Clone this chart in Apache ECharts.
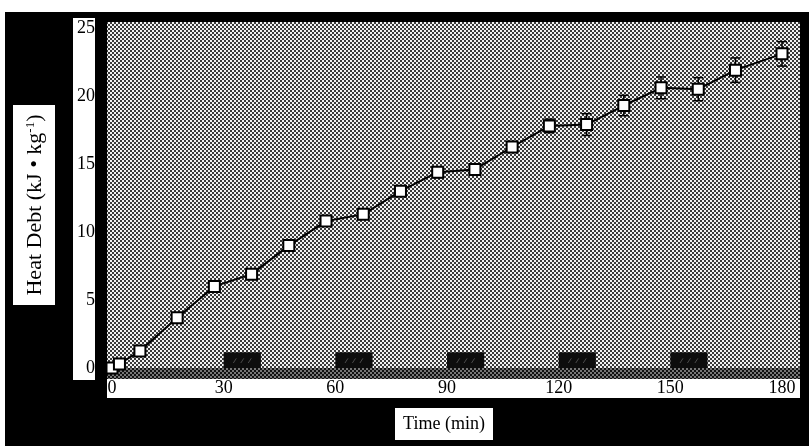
<!DOCTYPE html>
<html>
<head>
    <meta charset="utf-8">
    <title>Heat Debt</title>
    <script src="https://cdn.jsdelivr.net/npm/echarts@6/dist/echarts.min.js"></script>
    <style>
        html, body { margin: 0; padding: 0; background: #fff; }
        #chart { width: 809px; height: 446px; }
    </style>
</head>
<body>
<div id="chart"></div>
<script>
// time (min) and heat debt (kJ/kg)
var timeMin = [0, 2, 7.5, 17.5, 27.5, 37.5, 47.5, 57.5, 67.5, 77.5, 87.5, 97.5, 107.5, 117.5, 127.5, 137.5, 147.5, 157.5, 167.5, 180];
var heatDebt = [0, 0.3, 1.25, 3.7, 6.0, 6.9, 9.0, 10.8, 11.3, 13.0, 14.4, 14.6, 16.25, 17.8, 17.9, 19.3, 20.6, 20.5, 21.9, 23.1];
var heatErr = [0, 0, 0.2, 0.2, 0.2, 0.2, 0.3, 0.3, 0.3, 0.3, 0.4, 0.4, 0.4, 0.5, 0.8, 0.75, 0.8, 0.85, 0.9, 0.9];
// rest periods drawn as black blocks on the time axis
var restStart = [30, 60, 90, 120, 150];
var restEnd = [40, 70, 100, 130, 160];
var restHeight = 1.15;
var xTicks = [0, 30, 60, 90, 120, 150, 180];

// stipple pattern like the scanned plot area
function makeStipple(light, dark) {
    var c = document.createElement('canvas');
    c.width = 4; c.height = 4;
    var g = c.getContext('2d');
    g.fillStyle = light; g.fillRect(0, 0, 4, 4);
    g.fillStyle = dark;
    g.fillRect(0, 0, 2, 2);
    g.fillRect(2, 2, 2, 2);
    return { image: c, repeat: 'repeat' };
}

var chart = echarts.init(document.getElementById('chart'));
var serif = 'Liberation Serif';

var option = {
    backgroundColor: '#fff',
    animation: false,
    grid: { left: 112, right: 27, top: 28, bottom: 78 },
    xAxis: {
        type: 'value', min: 0, max: 180, interval: 30,
        axisLine: { show: false }, axisTick: { show: false }, splitLine: { show: false },
        axisLabel: {
            margin: 11, color: '#000', fontFamily: serif, fontSize: 18,
            formatter: function (v) { return xTicks.indexOf(v) >= 0 ? String(v) : ''; }
        }
    },
    yAxis: {
        type: 'value', min: 0, max: 25, interval: 5,
        axisLine: { show: false }, axisTick: { show: false }, splitLine: { show: false },
        axisLabel: { margin: 17, color: '#000', fontFamily: serif, fontSize: 18 }
    },
    graphic: [
        // outer black frame
        { type: 'rect', z: -10, shape: { x: 5, y: 12, width: 804, height: 434 }, style: { fill: '#000' } },
        // stippled plot area
        { type: 'rect', z: -9, shape: { x: 107, y: 22, width: 693, height: 346 }, style: { fill: makeStipple('#f2f2f2', '#3a3a3a') } },
        // dark strip under the plot
        { type: 'rect', z: -9, shape: { x: 107, y: 368, width: 693, height: 11 }, style: { fill: makeStipple('#777', '#111') } },
        // x tick label band
        { type: 'rect', z: -9, shape: { x: 107, y: 379, width: 693, height: 19 }, style: { fill: '#fff' } },
        // y tick label band
        { type: 'rect', z: -9, shape: { x: 73, y: 18, width: 22, height: 362 }, style: { fill: '#fff' } },
        // y title box
        { type: 'rect', z: -8, shape: { x: 13, y: 105, width: 42, height: 200 }, style: { fill: '#fff' } },
        {
            type: 'text', z: 5, x: 35, y: 205, rotation: Math.PI / 2,
            style: {
                text: 'Heat Debt (kJ • kg{sup|-1})',
                fontFamily: serif, fontSize: 22, fill: '#000',
                align: 'center', verticalAlign: 'middle',
                rich: { sup: { fontFamily: serif, fontSize: 13, verticalAlign: 'top', lineHeight: 13, padding: [0, 0, 11, 0] } }
            }
        },
        // x title box
        { type: 'rect', z: -8, shape: { x: 395, y: 408, width: 98, height: 32 }, style: { fill: '#fff' } },
        {
            type: 'text', z: 5, x: 444, y: 424,
            style: { text: 'Time (min)', fontFamily: serif, fontSize: 18, fill: '#000', align: 'center', verticalAlign: 'middle' }
        }
    ],
    series: [
        {
            // rest blocks
            type: 'custom',
            z: 1,
            data: restStart.map(function (s, i) { return [s, restEnd[i], restHeight]; }),
            renderItem: function (params, api) {
                var p0 = api.coord([api.value(0), 0]);
                var p1 = api.coord([api.value(1), api.value(2)]);
                var w = p1[0] - p0[0], h = p0[1] - p1[1];
                var kids = [{ type: 'rect', shape: { x: p0[0], y: p1[1], width: w, height: h }, style: { fill: '#0d0d0d' } }];
                for (var k = 0; k < 3; k++) {
                    var cx = p0[0] + w * (0.3 + 0.2 * k);
                    kids.push({ type: 'line', shape: { x1: cx - 1.5, y1: p0[1] - 5, x2: cx + 1.5, y2: p1[1] + 6 }, style: { stroke: '#4a4a4a', lineWidth: 1 } });
                }
                return { type: 'group', children: kids };
            }
        },
        {
            // error bars
            type: 'custom',
            z: 2,
            data: timeMin.map(function (t, i) { return [t, heatDebt[i] - heatErr[i], heatDebt[i] + heatErr[i]]; }),
            renderItem: function (params, api) {
                var lo = api.coord([api.value(0), api.value(1)]);
                var hi = api.coord([api.value(0), api.value(2)]);
                var cw = 5;
                return {
                    type: 'group',
                    children: [
                        { type: 'line', shape: { x1: lo[0], y1: lo[1], x2: hi[0], y2: hi[1] }, style: { stroke: '#000', lineWidth: 1.5 } },
                        { type: 'line', shape: { x1: lo[0] - cw, y1: lo[1], x2: lo[0] + cw, y2: lo[1] }, style: { stroke: '#000', lineWidth: 1.5 } },
                        { type: 'line', shape: { x1: hi[0] - cw, y1: hi[1], x2: hi[0] + cw, y2: hi[1] }, style: { stroke: '#000', lineWidth: 1.5 } }
                    ]
                };
            }
        },
        {
            type: 'line',
            z: 3,
            data: timeMin.map(function (t, i) { return [t, heatDebt[i]]; }),
            symbol: 'rect',
            symbolSize: 11,
            lineStyle: { color: '#000', width: 2 },
            itemStyle: { color: '#fff', borderColor: '#000', borderWidth: 2 }
        }
    ]
};

chart.setOption(option);
</script>
</body>
</html>
